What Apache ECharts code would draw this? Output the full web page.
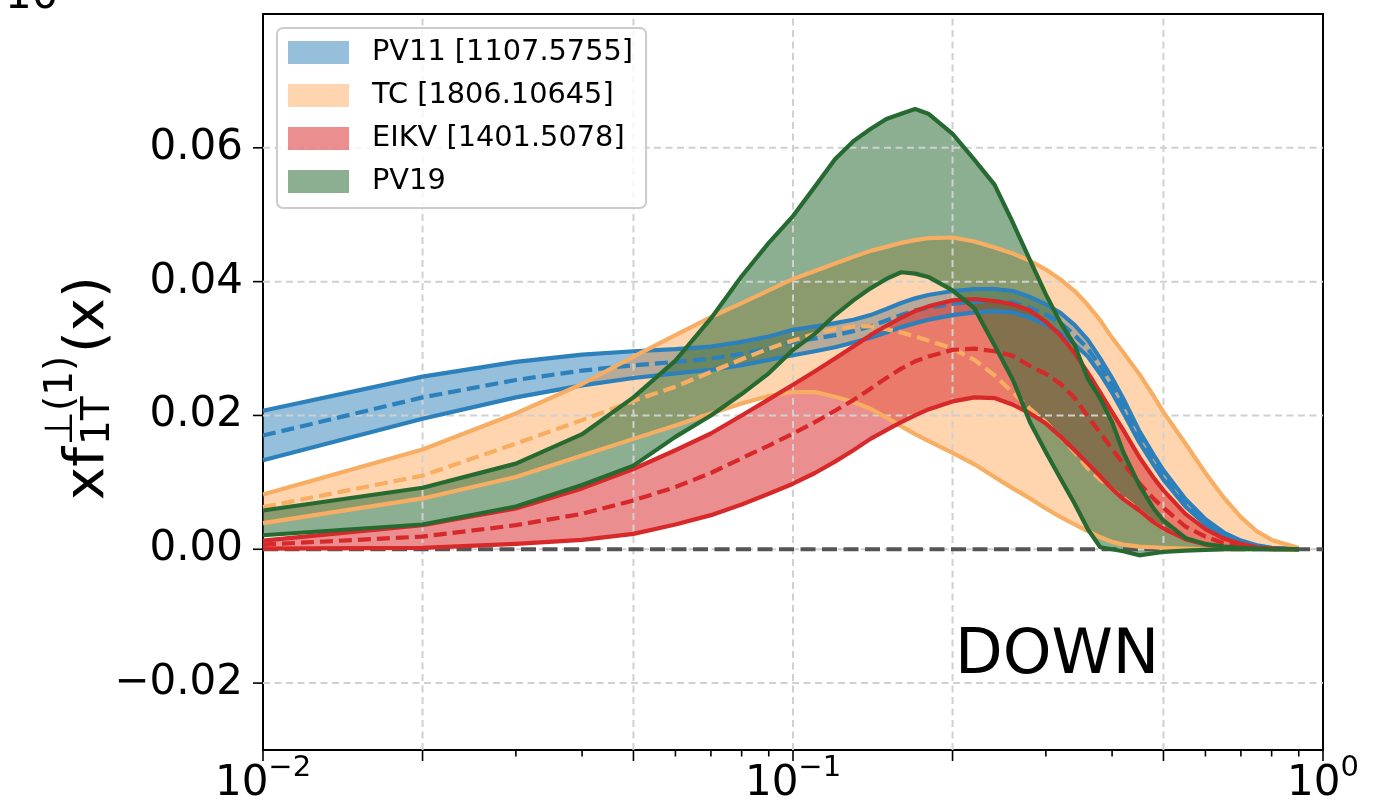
<!DOCTYPE html>
<html>
<head>
<meta charset="utf-8">
<script src="https://cdn.jsdelivr.net/npm/echarts@6/dist/echarts.min.js"></script>
<style>
  html, body { margin: 0; padding: 0; background: #fff; }
  #chart { width: 1375px; height: 809px; }
</style>
</head>
<body>
<div id="chart"></div>
<script>
// Sampling points in x (shared by all bands)
const xGrid = [0.01, 0.02, 0.03, 0.04, 0.05, 0.06, 0.07, 0.08, 0.09, 0.1,
  0.11, 0.12, 0.13, 0.14, 0.15, 0.16, 0.17, 0.18, 0.2, 0.22,
  0.24, 0.26, 0.28, 0.3, 0.32, 0.34, 0.36, 0.38, 0.4, 0.42,
  0.45, 0.48, 0.5, 0.55, 0.6, 0.65, 0.7, 0.75, 0.8, 0.9];

// PV11 band: upper, central, lower
const pv11Hi = [0.0207, 0.0258, 0.0280, 0.0291, 0.0296, 0.0299, 0.0303, 0.0310, 0.0318, 0.0328,
  0.0333, 0.0338, 0.0343, 0.0350, 0.0359, 0.0368, 0.0375, 0.0380, 0.0386, 0.0389,
  0.0389, 0.0386, 0.0377, 0.0366, 0.0353, 0.0335, 0.0313, 0.0285, 0.0256, 0.0225,
  0.0177, 0.0140, 0.0118, 0.0075, 0.0045, 0.0025, 0.0013, 0.0006, 0.0002, 0.0000];
const pv11Mid = [0.0170, 0.0227, 0.0253, 0.0267, 0.0275, 0.0280, 0.0285, 0.0292, 0.0300, 0.0310,
  0.0315, 0.0320, 0.0326, 0.0333, 0.0342, 0.0350, 0.0357, 0.0361, 0.0367, 0.0370,
  0.0371, 0.0369, 0.0361, 0.0351, 0.0338, 0.0320, 0.0300, 0.0273, 0.0245, 0.0214,
  0.0168, 0.0132, 0.0111, 0.0069, 0.0041, 0.0022, 0.0011, 0.0005, 0.0002, 0.0000];
const pv11Lo = [0.0133, 0.0195, 0.0227, 0.0245, 0.0256, 0.0263, 0.0268, 0.0275, 0.0283, 0.0290,
  0.0296, 0.0302, 0.0309, 0.0316, 0.0324, 0.0332, 0.0338, 0.0343, 0.0350, 0.0354,
  0.0356, 0.0354, 0.0346, 0.0336, 0.0323, 0.0306, 0.0288, 0.0262, 0.0234, 0.0204,
  0.0160, 0.0125, 0.0104, 0.0064, 0.0037, 0.0020, 0.0010, 0.0004, 0.0001, 0.0000];

// TC band
const tcHi = [0.0082, 0.0149, 0.0203, 0.0247, 0.0288, 0.0320, 0.0347, 0.0368, 0.0387, 0.0404,
  0.0416, 0.0427, 0.0437, 0.0446, 0.0452, 0.0458, 0.0462, 0.0465, 0.0466, 0.0460,
  0.0451, 0.0442, 0.0431, 0.0418, 0.0403, 0.0386, 0.0365, 0.0342, 0.0316, 0.0294,
  0.0262, 0.0228, 0.0205, 0.0158, 0.0114, 0.0077, 0.0048, 0.0027, 0.0014, 0.0002];
const tcMid = [0.0063, 0.0110, 0.0158, 0.0193, 0.0222, 0.0243, 0.0265, 0.0284, 0.0300, 0.0312,
  0.0322, 0.0329, 0.0333, 0.0333, 0.0329, 0.0324, 0.0318, 0.0312, 0.0300, 0.0283,
  0.0260, 0.0234, 0.0210, 0.0190, 0.0167, 0.0145, 0.0121, 0.0104, 0.0090, 0.0077,
  0.0058, 0.0040, 0.0031, 0.0016, 0.0008, 0.0004, 0.0002, 0.0001, 0.0000, 0.0000];
const tcLo = [0.0039, 0.0076, 0.0108, 0.0140, 0.0165, 0.0185, 0.0203, 0.0218, 0.0229, 0.0235,
  0.0235, 0.0228, 0.0220, 0.0210, 0.0197, 0.0184, 0.0172, 0.0162, 0.0144, 0.0127,
  0.0108, 0.0091, 0.0076, 0.0061, 0.0048, 0.0037, 0.0027, 0.0018, 0.0011, 0.0007,
  0.0004, 0.0003, 0.0002, 0.0001, 0.0000, 0.0000, 0.0000, 0.0000, 0.0000, 0.0000];

// EIKV band
const eikvHi = [0.0013, 0.0036, 0.0061, 0.0091, 0.0120, 0.0148, 0.0173, 0.0200, 0.0224, 0.0246,
  0.0266, 0.0285, 0.0303, 0.0320, 0.0334, 0.0346, 0.0356, 0.0363, 0.0372, 0.0374,
  0.0371, 0.0366, 0.0357, 0.0340, 0.0319, 0.0293, 0.0264, 0.0234, 0.0205, 0.0178,
  0.0138, 0.0106, 0.0088, 0.0053, 0.0030, 0.0016, 0.0008, 0.0003, 0.0001, 0.0000];
const eikvMid = [0.0007, 0.0019, 0.0036, 0.0053, 0.0073, 0.0093, 0.0114, 0.0136, 0.0155, 0.0173,
  0.0190, 0.0207, 0.0223, 0.0240, 0.0256, 0.0270, 0.0281, 0.0288, 0.0298, 0.0300,
  0.0296, 0.0289, 0.0274, 0.0262, 0.0247, 0.0226, 0.0198, 0.0174, 0.0150, 0.0128,
  0.0099, 0.0075, 0.0062, 0.0034, 0.0019, 0.0009, 0.0004, 0.0002, 0.0001, 0.0000];
const eikvLo = [0.0001, 0.0002, 0.0008, 0.0014, 0.0023, 0.0037, 0.0051, 0.0067, 0.0083, 0.0098,
  0.0114, 0.0131, 0.0148, 0.0165, 0.0178, 0.0190, 0.0200, 0.0209, 0.0221, 0.0227,
  0.0226, 0.0216, 0.0203, 0.0188, 0.0168, 0.0148, 0.0128, 0.0109, 0.0090, 0.0075,
  0.0058, 0.0040, 0.0031, 0.0015, 0.0007, 0.0004, 0.0002, 0.0001, 0.0000, 0.0000];

// PV19 band
const pv19Hi = [0.0058, 0.0092, 0.0128, 0.0172, 0.0227, 0.0282, 0.0345, 0.0408, 0.0458, 0.0498,
  0.0542, 0.0583, 0.0610, 0.0628, 0.0643, 0.0651, 0.0658, 0.0651, 0.0621, 0.0582,
  0.0545, 0.0488, 0.0432, 0.0381, 0.0338, 0.0305, 0.0255, 0.0225, 0.0190, 0.0145,
  0.0096, 0.0060, 0.0043, 0.0017, 0.0008, 0.0004, 0.0002, 0.0001, 0.0000, 0.0000];
const pv19Lo = [0.0021, 0.0037, 0.0064, 0.0096, 0.0125, 0.0168, 0.0200, 0.0232, 0.0263, 0.0298,
  0.0322, 0.0350, 0.0372, 0.0390, 0.0404, 0.0414, 0.0412, 0.0407, 0.0387, 0.0360,
  0.0305, 0.0253, 0.0190, 0.0145, 0.0105, 0.0068, 0.0030, 0.0003, 0.0000, -0.0003,
  -0.0009, -0.0006, -0.0004, -0.0002, -0.0001, 0.0000, 0.0000, 0.0000, 0.0000, 0.0000];

const bandNames = ['PV11 [1107.5755]', 'TC [1806.10645]', 'EIKV [1401.5078]', 'PV19'];

// Axis ranges, ticks and grid positions
const xRange = [0.01, 1];
const yRange = [-0.03, 0.08];
const xMajorTicks = [0.01, 0.02, 0.05, 0.1, 0.2, 0.5, 1];
const xMinorTicks = [0.03, 0.04, 0.06, 0.07, 0.08, 0.09, 0.3, 0.4, 0.6, 0.7, 0.8, 0.9];
const xGridLines = [0.02, 0.05, 0.1, 0.2, 0.5];
const yTicks = [-0.02, 0, 0.02, 0.04, 0.06];

const FONT = 'DejaVu Sans';
const LINE_W = 4.2;

const bands = [
  { name: bandNames[0], hi: pv11Hi, mid: pv11Mid, lo: pv11Lo, line: '#2c80bb', fill: 'rgba(31,119,180,0.47)' },
  { name: bandNames[1], hi: tcHi, mid: tcMid, lo: tcLo, line: '#f7ad62', fill: 'rgba(255,127,14,0.33)' },
  { name: bandNames[2], hi: eikvHi, mid: eikvMid, lo: eikvLo, line: '#d7282a', fill: 'rgba(214,39,40,0.52)' },
  { name: bandNames[3], hi: pv19Hi, mid: null, lo: pv19Lo, line: '#266a31', fill: 'rgba(43,106,52,0.54)' }
];

const series = [];

// Filled uncertainty bands
bands.forEach(function (b) {
  series.push({
    type: 'custom',
    name: b.name,
    z: 2,
    clip: true,
    silent: true,
    itemStyle: { color: b.fill },
    encode: { x: 0, y: [1, 2] },
    data: xGrid.map(function (x, i) { return [x, b.lo[i], b.hi[i]]; }),
    renderItem: function (params, api) {
      if (params.dataIndex !== 0) return;
      const top = xGrid.map(function (x, i) { return api.coord([x, b.hi[i]]); });
      const bottom = xGrid.map(function (x, i) { return api.coord([x, b.lo[i]]); }).reverse();
      return { type: 'polygon', shape: { points: top.concat(bottom) }, style: { fill: b.fill } };
    }
  });
});

// Dashed grid lines
series.push({
  type: 'custom', name: 'xgrid', z: 3, silent: true, clip: false,
  data: xGridLines.map(function (x) { return [x, 0]; }),
  renderItem: function (params, api) {
    const x = api.value(0);
    const p1 = api.coord([x, yRange[0]]);
    const p2 = api.coord([x, yRange[1]]);
    return { type: 'line', shape: { x1: p1[0], y1: p1[1], x2: p2[0], y2: p2[1] },
      style: { stroke: '#d0d0d0', lineWidth: 2, lineDash: [7, 4.5] } };
  }
});
series.push({
  type: 'custom', name: 'ygrid', z: 3, silent: true, clip: false,
  data: yTicks.map(function (y) { return [xRange[0], y]; }),
  renderItem: function (params, api) {
    const y = api.value(1);
    const p1 = api.coord([xRange[0], y]);
    const p2 = api.coord([xRange[1], y]);
    return { type: 'line', shape: { x1: p1[0], y1: p1[1], x2: p2[0], y2: p2[1] },
      style: { stroke: '#d0d0d0', lineWidth: 2, lineDash: [7, 4.5] } };
  }
});

// Zero reference line
series.push({
  type: 'line', name: 'zero', z: 3, silent: true, symbol: 'none',
  data: [[xRange[0], 0], [xRange[1], 0]],
  lineStyle: { color: '#555555', width: 4, type: [15, 6.5] }
});

// Band edges and central curves
bands.forEach(function (b) {
  const mk = function (suffix, vals, dashed) {
    return {
      type: 'line', name: b.name + suffix, z: 4, silent: true, symbol: 'none', clip: true,
      data: xGrid.map(function (x, i) { return [x, vals[i]]; }),
      lineStyle: { color: b.line, width: LINE_W, type: dashed ? [13, 6] : 'solid', join: 'round', cap: 'butt' }
    };
  };
  series.push(mk(' upper', b.hi, false));
  series.push(mk(' lower', b.lo, false));
  if (b.mid) series.push(mk(' central', b.mid, true));
});

// Tick marks
series.push({
  type: 'custom', name: 'xticks', z: 5, silent: true, clip: false,
  data: xMajorTicks.map(function (x) { return [x, 1]; }).concat(xMinorTicks.map(function (x) { return [x, 0]; })),
  renderItem: function (params, api) {
    const p = api.coord([api.value(0), yRange[0]]);
    const len = api.value(1) ? 11 : 6.5;
    return { type: 'line', shape: { x1: p[0], y1: p[1], x2: p[0], y2: p[1] + len },
      style: { stroke: '#000', lineWidth: 1.6 } };
  }
});
series.push({
  type: 'custom', name: 'yticks', z: 5, silent: true, clip: false,
  data: yTicks.map(function (y) { return [xRange[0], y]; }),
  renderItem: function (params, api) {
    const p = api.coord([xRange[0], api.value(1)]);
    return { type: 'line', shape: { x1: p[0] - 10, y1: p[1], x2: p[0], y2: p[1] },
      style: { stroke: '#000', lineWidth: 1.6 } };
  }
});

const chart = echarts.init(document.getElementById('chart'), null, { renderer: 'canvas' });

const yLabelFs = 56, ySubFs = 39;

chart.setOption({
  animation: false,
  backgroundColor: '#ffffff',
  grid: { left: 263, right: 52, top: 14, bottom: 59, show: true, borderColor: '#000', borderWidth: 2, backgroundColor: 'transparent' },
  xAxis: {
    type: 'log', logBase: 10, min: xRange[0], max: xRange[1],
    axisLine: { show: false }, axisTick: { show: false }, splitLine: { show: false },
    axisLabel: {
      margin: 4, showMinLabel: true, showMaxLabel: true,
      formatter: function (v) {
        const e = Math.round(Math.log10(v));
        return '{b|10}{e|' + (e < 0 ? '\u2212' + (-e) : e) + '}';
      },
      rich: {
        b: { fontSize: 42, fontFamily: FONT, color: '#000', lineHeight: 60, verticalAlign: 'middle' },
        e: { fontSize: 29, fontFamily: FONT, color: '#000', lineHeight: 30, verticalAlign: 'top' }
      }
    }
  },
  yAxis: {
    type: 'value', min: yRange[0], max: yRange[1], interval: 0.01,
    axisLine: { show: false }, axisTick: { show: false }, splitLine: { show: false },
    axisLabel: {
      margin: 20, fontSize: 42, fontFamily: FONT, color: '#000',
      formatter: function (v) {
        const n = Math.round(v * 100);
        if (n % 2 !== 0 || n < -2 || n > 6) return '';
        return (n < 0 ? '\u2212' : '') + (Math.abs(n) / 100).toFixed(2);
      }
    }
  },
  legend: {
    data: bandNames,
    orient: 'vertical', left: 277, top: 28, z: 10,
    icon: 'rect', itemWidth: 61, itemHeight: 23, itemGap: 14,
    padding: [10, 13, 12, 11],
    backgroundColor: 'rgba(255,255,255,0.8)', borderColor: '#cccccc', borderWidth: 2, borderRadius: 6,
    selectedMode: false,
    textStyle: { fontSize: 28.8, fontFamily: FONT, color: '#000', padding: [0, 0, 0, 18] }
  },
  graphic: [
    { type: 'text', x: 5, y: -2.5, silent: true,
      style: { text: '10', fontSize: 42, fontFamily: FONT, fill: '#000', align: 'left', verticalAlign: 'middle', textAlign: 'left', textVerticalAlign: 'middle' } },
    { type: 'text', x: 955, y: 657, silent: true, z: 10,
      style: { text: 'DOWN', fontSize: 62, fontFamily: FONT, fill: '#000', align: 'left', verticalAlign: 'middle', textAlign: 'left', textVerticalAlign: 'middle' } },
    { type: 'group', x: 108, y: 500, rotation: Math.PI / 2, silent: true, children: [
      { type: 'text', x: 0, y: -0.346 * yLabelFs,
        style: { text: 'xf', fontSize: yLabelFs, fontFamily: FONT, fill: '#000', align: 'left', verticalAlign: 'middle', textAlign: 'left', textVerticalAlign: 'middle' } },
      { type: 'text', x: 55, y: 4 - 0.346 * ySubFs,
        style: { text: '1T', fontSize: ySubFs, fontFamily: FONT, fill: '#000', align: 'left', verticalAlign: 'middle', textAlign: 'left', textVerticalAlign: 'middle' } },
      { type: 'text', x: 55, y: -33 - 0.346 * ySubFs,
        style: { text: '\u22A5(1)', fontSize: ySubFs, fontFamily: FONT, fill: '#000', align: 'left', verticalAlign: 'middle', textAlign: 'left', textVerticalAlign: 'middle' } },
      { type: 'text', x: 147, y: -0.346 * yLabelFs,
        style: { text: '(x)', fontSize: yLabelFs, fontFamily: FONT, fill: '#000', align: 'left', verticalAlign: 'middle', textAlign: 'left', textVerticalAlign: 'middle' } }
    ] }
  ],
  series: series
});
</script>
</body>
</html>
